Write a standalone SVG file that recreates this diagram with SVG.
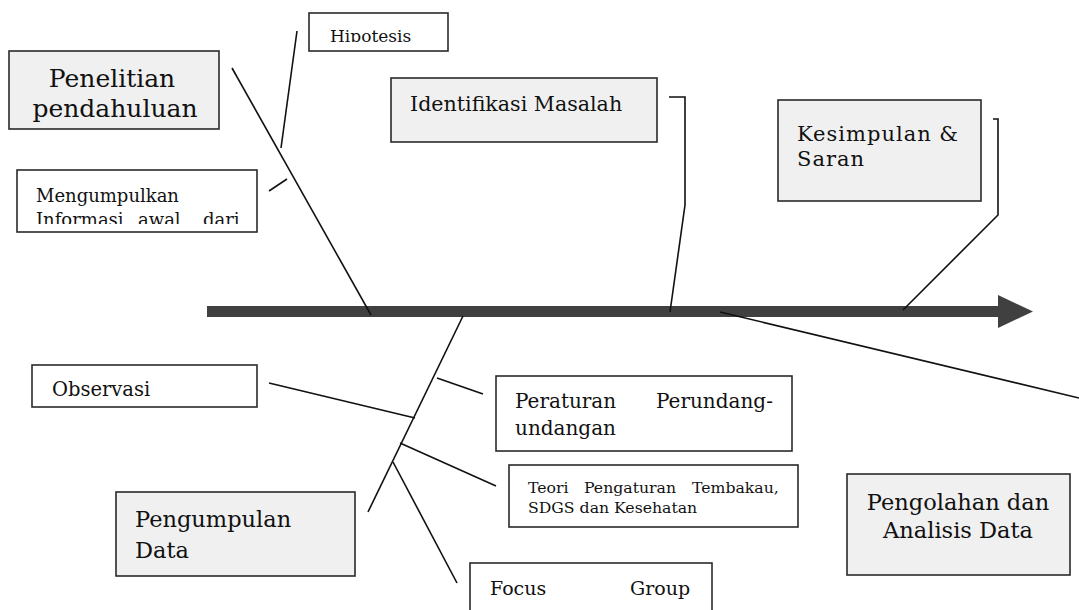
<svg xmlns="http://www.w3.org/2000/svg" width="1079" height="610" viewBox="0 0 1079 610">
<style>
.box{stroke:#2a2a2a;stroke-width:1.6}
.g{fill:#f0f0f0}
.w{fill:#ffffff}
.t{font-family:"DejaVu Serif","Liberation Serif",serif;fill:#111}
.big{font-size:22.5px}
.med{font-size:19px}
.sm{font-size:15.7px}
.ln{stroke:#111;stroke-width:1.6;fill:none}
</style>
<defs>
<clipPath id="clipHip"><rect x="309" y="13" width="140" height="29"/></clipPath>
<clipPath id="clipMen"><rect x="17" y="170" width="241" height="54"/></clipPath>
</defs>
<rect width="1079" height="610" fill="#ffffff"/>

<g id="connectors">
  <rect x="207" y="306" width="793" height="11" fill="#404040"/>
  <polygon points="998,295 1033,311.5 998,328" fill="#404040"/>
  <line class="ln" x1="232" y1="68" x2="371" y2="315"/>
  <line class="ln" x1="297" y1="31" x2="281" y2="148"/>
  <line class="ln" x1="269" y1="191" x2="287" y2="179"/>
  <polyline class="ln" points="669,97 685,97 685,205 670,312"/>
  <polyline class="ln" points="993,119 998,119 998,215 903,310"/>
  <line class="ln" x1="720" y1="312" x2="1079" y2="398"/>
  <line class="ln" x1="463" y1="316" x2="368" y2="512"/>
  <line class="ln" x1="269" y1="383" x2="415" y2="418"/>
  <line class="ln" x1="437" y1="378" x2="483" y2="394"/>
  <line class="ln" x1="400" y1="443" x2="496" y2="486"/>
  <line class="ln" x1="393" y1="462" x2="457" y2="583"/>
</g>

<g id="penelitian">
  <rect class="box g" x="9" y="51" width="210" height="78"/>
  <text class="t" x="112" y="87" text-anchor="middle" font-size="25">Penelitian</text>
  <text class="t" x="115" y="117" text-anchor="middle" font-size="25">pendahuluan</text>
</g>

<g id="hipotesis">
  <rect class="box w" x="309" y="13" width="139" height="38"/>
  <text class="t" x="330" y="42" font-size="17" clip-path="url(#clipHip)">Hipotesis</text>
</g>

<g id="mengumpulkan">
  <rect class="box w" x="17" y="170" width="240" height="62"/>
  <g clip-path="url(#clipMen)">
    <text class="t" x="36" y="202" font-size="18">Mengumpulkan</text>
    <text class="t" y="226" font-size="18"><tspan x="36">Informasi</tspan><tspan x="138">awal</tspan><tspan x="203">dari</tspan></text>
  </g>
</g>

<g id="identifikasi">
  <rect class="box g" x="391" y="78" width="266" height="64"/>
  <text class="t" x="410" y="111" font-size="20.6">Identifikasi Masalah</text>
</g>

<g id="kesimpulan">
  <rect class="box g" x="778" y="100" width="203" height="101"/>
  <text class="t" x="797" y="141" font-size="21" letter-spacing="1">Kesimpulan &amp;</text>
  <text class="t" x="797" y="166" font-size="21" letter-spacing="1">Saran</text>
</g>

<g id="observasi">
  <rect class="box w" x="32" y="365" width="225" height="42"/>
  <text class="t" x="52" y="396" font-size="19.5">Observasi</text>
</g>

<g id="pengumpulan">
  <rect class="box g" x="116" y="492" width="239" height="84"/>
  <text class="t big" x="135" y="527">Pengumpulan</text>
  <text class="t big" x="135" y="558">Data</text>
</g>

<g id="peraturan">
  <rect class="box w" x="496" y="376" width="296" height="75"/>
  <text class="t" y="408" font-size="20"><tspan x="515">Peraturan</tspan><tspan x="656">Perundang-</tspan></text>
  <text class="t" x="515" y="435" font-size="20">undangan</text>
</g>

<g id="teori">
  <rect class="box w" x="509" y="465" width="289" height="62"/>
  <text class="t sm" y="493"><tspan x="528">Teori</tspan><tspan x="584">Pengaturan</tspan><tspan x="692">Tembakau,</tspan></text>
  <text class="t sm" x="528" y="513">SDGS dan Kesehatan</text>
</g>

<g id="focus">
  <rect class="box w" x="470" y="563" width="242" height="52"/>
  <text class="t med" y="595"><tspan x="490">Focus</tspan><tspan x="630">Group</tspan></text>
</g>

<g id="pengolahan">
  <rect class="box g" x="847" y="474" width="223" height="101"/>
  <text class="t big" x="958" y="510" text-anchor="middle">Pengolahan dan</text>
  <text class="t big" x="958" y="538" text-anchor="middle">Analisis Data</text>
</g>
</svg>
